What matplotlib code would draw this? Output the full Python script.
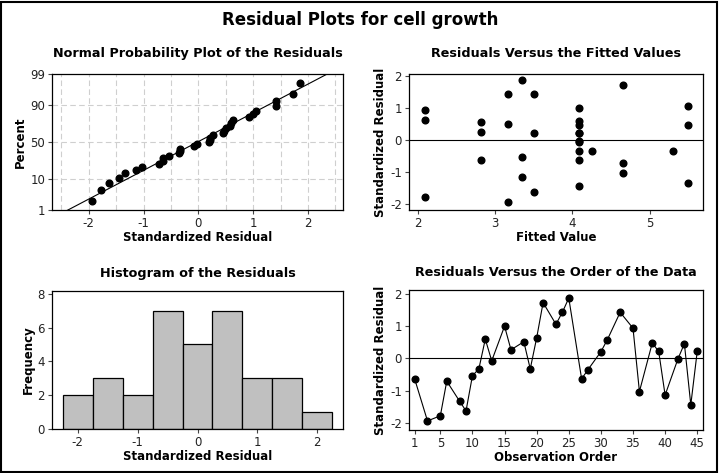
"""Residual plots for cell growth (4-in-1 layout)."""

from statistics import NormalDist

import matplotlib

matplotlib.use("Agg")
import matplotlib.pyplot as plt
import numpy as np
from matplotlib.patches import Rectangle

plt.rcParams["font.family"] = ["DejaVu Sans"]
plt.rcParams["axes.unicode_minus"] = False

# observation number, standardized residual, fitted value
OBS = [1, 3, 5, 6, 8, 9, 10, 11, 12, 13, 15, 16, 18, 19, 20, 21, 23,
       24, 25, 27, 28, 30, 31, 33, 35, 36, 38, 39, 40, 42, 43, 44, 45]
RESID = [-0.64, -1.94, -1.78, -0.71, -1.33, -1.63, -0.54, -0.33, 0.59, -0.08,
         0.99, 0.26, 0.51, -0.33, 0.63, 1.72, 1.05, 1.42, 1.86, -0.64, -0.35,
         0.20, 0.57, 1.42, 0.93, -1.03, 0.47, 0.21, -1.14, -0.02, 0.45, -1.44, 0.21]
FITTED = [2.81, 3.17, 2.09, 4.65, 5.49, 3.50, 3.35, 4.08, 4.08, 4.08,
          4.08, 2.81, 3.17, 4.25, 2.09, 4.65, 5.49, 3.17, 3.35, 4.08, 5.30,
          3.50, 2.81, 3.50, 2.09, 4.65, 5.49, 4.08, 3.35, 4.08, 4.08, 4.08, 4.08]
PCT_TICKS = [1, 10, 50, 90, 99]
HIST_BINS = [-2.25, -1.75, -1.25, -0.75, -0.25, 0.25, 0.75, 1.25, 1.75, 2.25]
ORDER_TICKS = [1, 5, 10, 15, 20, 25, 30, 35, 40, 45]

resid = np.array(RESID)
nd = NormalDist()

W, H = 720, 473
fig = plt.figure(figsize=(W / 100, H / 100), dpi=100)
fig.patch.set_facecolor("white")
fig.patches.append(Rectangle((0.002, 0.003), 0.994, 0.992, transform=fig.transFigure,
                             fill=False, ec="black", lw=1.5))


def box(l, t, r, b):
    return [l / W, 1 - b / H, (r - l) / W, (b - t) / H]


TFS, LFS, KFS = 9.2, 8.5, 8.5
MS = 4.8
GRID = "#cfcfcf"


def style(ax, title, xlabel, ylabel, pad):
    ax.set_title(title, fontsize=TFS, fontweight="bold", pad=pad)
    ax.set_xlabel(xlabel, fontsize=LFS, fontweight="bold", labelpad=1)
    ax.set_ylabel(ylabel, fontsize=LFS, fontweight="bold", labelpad=2)
    ax.tick_params(direction="out", length=3, width=0.8, labelsize=KFS, pad=2,
                   color="#444444", labelcolor="#222222")
    for s in ax.spines.values():
        s.set_linewidth(0.9)


# normal probability plot
ax1 = fig.add_axes(box(52, 74, 343, 210))
srt = np.sort(resid)
n = len(srt)
zq = np.array([nd.inv_cdf((i - 0.3) / (n + 0.4)) for i in range(1, n + 1)])
zlo, zhi = nd.inv_cdf(0.01), nd.inv_cdf(0.99)
for gx in np.arange(-2.5, 2.51, 0.5):
    ax1.axvline(gx, color=GRID, ls=(0, (5, 3)), lw=0.8, zorder=0)
for p in [10, 50, 90]:
    ax1.axhline(nd.inv_cdf(p / 100), color=GRID, ls=(0, (5, 3)), lw=0.8, zorder=0)
mu, sd = resid.mean(), resid.std(ddof=1)
zz = np.array([zlo - 0.2, zhi + 0.2])
ax1.plot(mu + sd * zz, zz, color="black", lw=0.8, zorder=2)
ax1.plot(srt, zq, "o", color="black", ms=MS, zorder=3)
ax1.set_xlim(-2.67, 2.64)
ax1.set_ylim(zlo, zhi)
ax1.set_xticks([-2, -1, 0, 1, 2])
ax1.set_yticks([nd.inv_cdf(p / 100) for p in PCT_TICKS])
ax1.set_yticklabels([str(p) for p in PCT_TICKS])
style(ax1, "Normal Probability Plot of the Residuals", "Standardized Residual", "Percent", 12)

# residuals vs fitted
ax2 = fig.add_axes(box(409, 74, 703, 210))
ax2.axhline(0, color="black", lw=0.8, zorder=1)
ax2.plot(FITTED, RESID, "o", color="black", ms=MS, zorder=3)
ax2.set_xlim(1.883, 5.69)
ax2.set_ylim(-2.18, 2.05)
ax2.set_xticks([2, 3, 4, 5])
ax2.set_yticks([-2, -1, 0, 1, 2])
style(ax2, "Residuals Versus the Fitted Values", "Fitted Value", "Standardized Residual", 12)

# histogram
ax3 = fig.add_axes(box(52, 291, 343, 429))
ax3.hist(resid, bins=HIST_BINS, color="#c0c0c0", edgecolor="black", lw=0.9)
ax3.set_xlim(-2.43, 2.43)
ax3.set_ylim(0, 8.16)
ax3.set_xticks([-2, -1, 0, 1, 2])
ax3.set_yticks([0, 2, 4, 6, 8])
style(ax3, "Histogram of the Residuals", "Standardized Residual", "Frequency", 10)

# residuals vs order
ax4 = fig.add_axes(box(409, 290, 703, 430))
ax4.axhline(0, color="black", lw=0.8, zorder=1)
ax4.plot(OBS, RESID, "-o", color="black", lw=0.8, ms=MS, zorder=3)
ax4.set_xlim(0.12, 45.9)
ax4.set_ylim(-2.22, 2.11)
ax4.set_xticks(ORDER_TICKS)
ax4.set_yticks([-2, -1, 0, 1, 2])
style(ax4, "Residuals Versus the Order of the Data", "Observation Order", "Standardized Residual", 10)

fig.text(0.5, 1 - 20 / H, "Residual Plots for cell growth", ha="center", va="center",
         fontsize=12, fontweight="bold")

fig.savefig("out.png", dpi=100, facecolor="white")
